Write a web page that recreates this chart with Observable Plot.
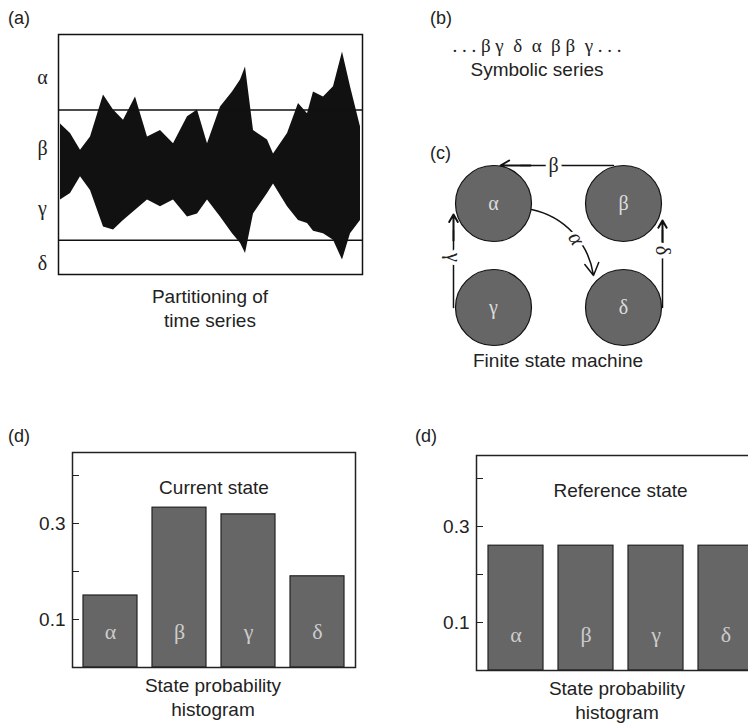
<!DOCTYPE html>
<html><head><meta charset="utf-8">
<script src="https://cdn.jsdelivr.net/npm/d3@7"></script>
<script src="https://cdn.jsdelivr.net/npm/@observablehq/plot@0.6"></script>
<style>
body{margin:0;background:#fff}
#fig{position:relative;width:748px;height:723px;overflow:hidden;font-family:"Liberation Sans Narrow","Liberation Sans",Arial,sans-serif;color:#222}
#fig > div{position:absolute}
#fig svg{max-width:none !important}
.lbl{position:absolute;font-size:18px;white-space:nowrap}
.cap{position:absolute;font-size:19px;text-align:center;line-height:24px}
.g{font-family:"Liberation Serif",serif}
</style></head>
<body><div id="fig"></div>
<script>
// time series envelope
const tsT = [20,30,40,50,63,73,83,95,107,120,133,147,157,167,180,192,200,205,213,227,233,247,258,267,273,283,293,302,310,320]
const tsHi = [0.69,0.53,0.25,0.47,1.17,0.92,0.75,1.14,0.47,0.58,0.36,0.81,0.92,0.36,0.97,1.22,1.42,1.64,0.58,0.42,0.19,0.53,1.03,0.86,1.22,1.14,1.31,1.89,1.31,0.64]
const tsLo = [-0.58,-0.47,-0.19,-0.42,-1.03,-1.08,-0.92,-0.75,-0.58,-0.69,-0.58,-0.86,-0.81,-0.58,-0.86,-1.14,-1.3,-1.47,-0.81,-0.47,-0.31,-0.69,-0.92,-0.97,-1.1,-1.14,-1.25,-1.58,-1.14,-0.92]
const thresholds = [0.92, -1.25]
const levelVals = [1.47, 0.28, -0.72, -1.63]
const states = ['α', 'β', 'γ', 'δ']
const currentProb = [0.15, 0.333, 0.319, 0.19]
const referenceProb = [0.26, 0.26, 0.26, 0.26]

// finite state machine layout
const nodes = [
  {s: 'α', x: 493, y: 203}, {s: 'β', x: 623, y: 203},
  {s: 'γ', x: 493, y: 307}, {s: 'δ', x: 623, y: 307}
]

const fig = document.getElementById('fig')
function place(el, left, top) {
  const d = document.createElement('div')
  d.style.left = left + 'px'; d.style.top = top + 'px'
  d.append(el); fig.append(d)
}
function text(html, cls, left, top, w) {
  const d = document.createElement('div')
  d.className = cls; d.innerHTML = html
  d.style.left = left + 'px'; d.style.top = top + 'px'
  if (w) d.style.width = w + 'px'
  fig.append(d)
}

const ts = tsT.map((t, i) => ({t, hi: tsHi[i], lo: tsLo[i]}))
const chartTs = Plot.plot({
  width: 370, height: 290,
  marginLeft: 58, marginRight: 8, marginTop: 34, marginBottom: 16,
  x: {domain: [18, 322], axis: null},
  y: {domain: [-1.82, 2.18], axis: null},
  marks: [
    Plot.areaY(ts, {x: 't', y1: 'lo', y2: 'hi', curve: 'linear', fill: '#111'}),
    Plot.ruleY(thresholds, {stroke: '#111', strokeWidth: 1.5}),
    Plot.text(states, {x: 18, y: (d, i) => levelVals[i], text: d => d, dx: -16, fontSize: 20, fontFamily: 'Liberation Serif', fill: '#222'}),
    Plot.frame({stroke: '#111', strokeWidth: 1.5})
  ]
})
place(chartTs, 0, 0)

const chartFsm = Plot.plot({
  width: 260, height: 230,
  marginLeft: 0, marginRight: 0, marginTop: 0, marginBottom: 0,
  x: {domain: [420, 680], range: [0, 260], axis: null},
  y: {domain: [130, 360], range: [0, 230], axis: null},
  marks: [
    Plot.line([[613, 165], [520, 165]], {stroke: '#111', strokeWidth: 1.5}),
    Plot.arrow([{x1: 530, y1: 165, x2: 500, y2: 165}], {x1: 'x1', y1: 'y1', x2: 'x2', y2: 'y2', headLength: 14, strokeWidth: 2, stroke: '#111'}),
    Plot.line([[453, 307], [453, 230]], {stroke: '#111', strokeWidth: 1.5}),
    Plot.arrow([{x1: 453, y1: 240, x2: 453, y2: 214}], {x1: 'x1', y1: 'y1', x2: 'x2', y2: 'y2', headLength: 14, strokeWidth: 2, stroke: '#111'}),
    Plot.line([[662, 307], [662, 230]], {stroke: '#111', strokeWidth: 1.5}),
    Plot.arrow([{x1: 662, y1: 245, x2: 662, y2: 220}], {x1: 'x1', y1: 'y1', x2: 'x2', y2: 'y2', headLength: 14, strokeWidth: 2, stroke: '#111'}),
    Plot.arrow([{x1: 531, y1: 209, x2: 593, y2: 275}], {x1: 'x1', y1: 'y1', x2: 'x2', y2: 'y2', bend: 35, headLength: 14, strokeWidth: 1.5, stroke: '#111'}),
    Plot.dot(nodes, {x: 'x', y: 'y', r: 38, fill: '#666', stroke: '#111', strokeWidth: 1.2}),
    Plot.text(nodes, {x: 'x', y: 'y', text: 's', fontSize: 20, fontFamily: 'Liberation Serif', fill: '#ddd'}),
    Plot.text(['β'], {x: 553, y: 165, text: d => d, fontSize: 20, fontFamily: 'Liberation Serif', fill: '#222', stroke: 'white', strokeWidth: 8}),
    Plot.text(['γ'], {x: 453, y: 257, text: d => d, rotate: 90, fontSize: 20, fontFamily: 'Liberation Serif', fill: '#222', stroke: 'white', strokeWidth: 8}),
    Plot.text(['δ'], {x: 662, y: 250, text: d => d, rotate: 90, fontSize: 20, fontFamily: 'Liberation Serif', fill: '#222', stroke: 'white', strokeWidth: 8}),
    Plot.text(['α'], {x: 576, y: 238, text: d => d, rotate: 60, fontSize: 22, fontFamily: 'Liberation Serif', fontStyle: 'italic', fill: '#222', stroke: 'white', strokeWidth: 6})
  ]
})
place(chartFsm, 420, 130)

function bars(probs, title, mTop, w) {
  const data = states.map((s, i) => ({s, p: probs[i]}))
  return Plot.plot({
    width: w, height: 240,
    marginLeft: 72, marginRight: 10, marginTop: mTop, marginBottom: 240 - mTop - 215,
    x: {domain: states, axis: null, paddingInner: 0.22, paddingOuter: 0.15},
    y: {domain: [0, 215 / 480], axis: null},
    marks: [
      Plot.barY(data, {x: 's', y: 'p', fill: '#666', stroke: '#222', strokeWidth: 1.2}),
      Plot.text(data, {x: 's', y: 0.075, text: 's', fontSize: 22, fontFamily: 'Liberation Serif', fill: '#ccc'}),
      Plot.axisY([0.1, 0.2, 0.3, 0.4], {tickSize: -7, tickFormat: () => '', label: null, stroke: '#222'}),
      Plot.axisY([0.1, 0.3], {tickSize: 0, tickPadding: 7, label: null, tickFormat: d3.format('.1f'), fontSize: 19, fontFamily: 'Liberation Sans Narrow, Liberation Sans, sans-serif', fill: '#222'}),
      Plot.text([title], {frameAnchor: 'top', dy: 28, text: d => d, fontSize: 19, fontFamily: 'Liberation Sans Narrow, Liberation Sans, sans-serif', fill: '#222'}),
      Plot.frame({stroke: '#222', strokeWidth: 1.5})
    ]
  })
}
place(bars(currentProb, 'Current state', 12, 365), 0, 440)
place(bars(referenceProb, 'Reference state', 15, 370), 404, 440)

text('(a)', 'lbl', 8, 8)
text('(b)', 'lbl', 430, 8)
text('(c)', 'lbl', 430, 143)
text('(d)', 'lbl', 8, 426)
text('(d)', 'lbl', 415, 426)
text('<span class="g">. . . β γ &nbsp;δ &nbsp;α &nbsp;β β &nbsp;γ . . .</span><br>Symbolic series', 'cap', 437, 34, 200)
text('Partitioning of<br>time series', 'cap', 110, 285, 200)
text('Finite state machine', 'cap', 458, 349, 200)
text('State probability<br>histogram', 'cap', 113, 674, 200)
text('State probability<br>histogram', 'cap', 517, 677, 200)
</script></body></html>
